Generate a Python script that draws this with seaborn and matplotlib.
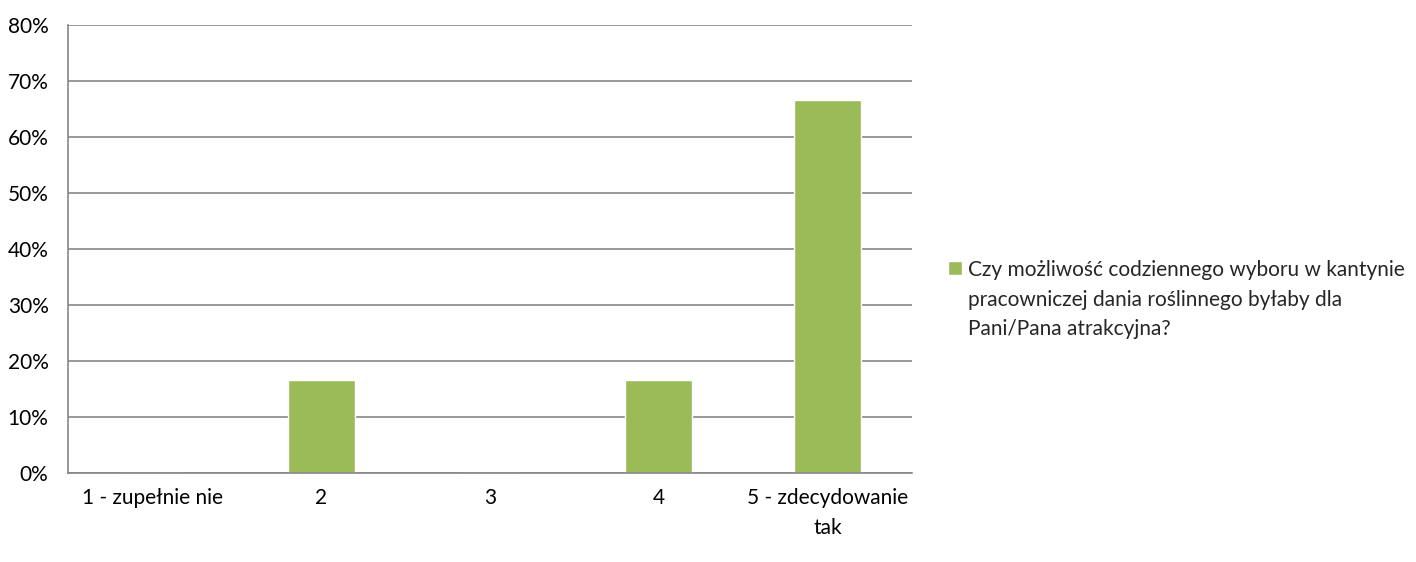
import matplotlib
matplotlib.use("Agg")
import matplotlib.pyplot as plt
import seaborn as sns
from matplotlib.ticker import FuncFormatter

categories = ["1 - zupełnie nie", "2", "3", "4", "5 - zdecydowanie\ntak"]
shares = [0.0, 16.67, 0.0, 16.67, 66.67]
series_label = ("Czy możliwość codziennego wyboru w kantynie\n"
                "pracowniczej dania roślinnego byłaby dla\n"
                "Pani/Pana atrakcyjna?")

sns.set_theme(style="white")
plt.rcParams["font.family"] = ["Lato", "DejaVu Sans"]

GREEN = "#9BBB59"
GRID = "#868686"
FS = 15

fig = plt.figure(figsize=(14.16, 5.62), dpi=100)
ax = fig.add_axes([68 / 1416, 1 - 473 / 562, (912 - 68) / 1416, (473 - 25) / 562])

sns.barplot(x=categories, y=shares, color=GREEN, width=0.395, saturation=1,
            label=series_label, ax=ax)

ax.set_ylim(0, 80)
ax.set_yticks(range(0, 81, 10))
ax.yaxis.set_major_formatter(FuncFormatter(lambda v, _: f"{v:.0f}%"))
ax.set_xlim(-0.5, 4.5)
ax.yaxis.grid(True, color=GRID, linewidth=1.2)
ax.set_axisbelow(True)
for side in ("top", "right"):
    ax.spines[side].set_visible(False)
for side in ("left", "bottom"):
    ax.spines[side].set_color(GRID)
    ax.spines[side].set_linewidth(1.2)
ax.tick_params(axis="both", length=0, labelsize=FS, colors="black")
ax.tick_params(axis="y", pad=14)
ax.tick_params(axis="x", pad=11)
for lbl in ax.get_xticklabels():
    lbl.set_linespacing(1.6)
ax.set_xlabel("")
ax.set_ylabel("")

leg = ax.legend(loc="upper left", bbox_to_anchor=(948 / 1416, 1 - 260 / 562),
                bbox_transform=fig.transFigure, frameon=False, fontsize=FS,
                handlelength=0.65, handleheight=0.65, handletextpad=0.3,
                borderpad=0, borderaxespad=0, labelspacing=0)
for t in leg.get_texts():
    t.set_linespacing(1.6)
# keep the colour square level with the first line of the label
for p in leg.get_patches():
    p.set_y(p.get_y() + 23)

fig.savefig("out.png", dpi=100, facecolor="white")
